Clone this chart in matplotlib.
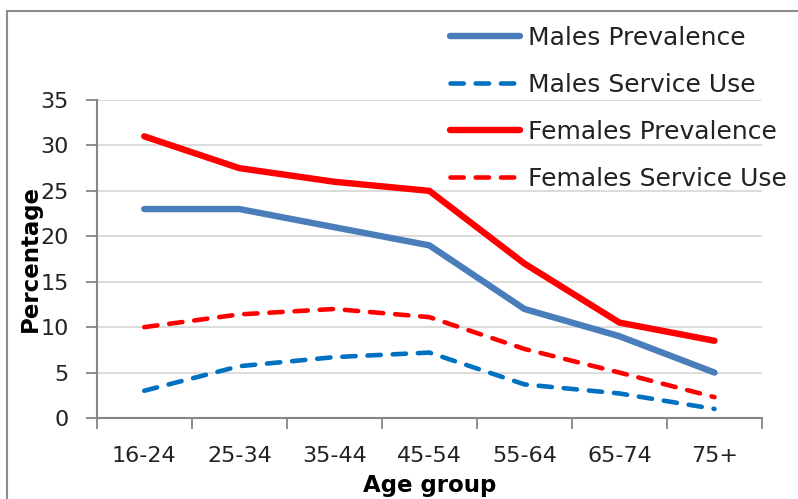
import matplotlib.pyplot as plt
from matplotlib.patches import Rectangle

# --- data ---
age_groups = ["16-24", "25-34", "35-44", "45-54", "55-64", "65-74", "75+"]
males_prev = [23, 23, 21, 19, 12, 9, 5]
males_serv = [3, 5.7, 6.7, 7.2, 3.7, 2.7, 1.0]
females_prev = [31, 27.5, 26, 25, 17, 10.5, 8.5]
females_serv = [10, 11.4, 12, 11.1, 7.6, 5.0, 2.3]

plt.rcParams['font.family'] = ['DejaVu Sans']

W, H = 798, 499
fig = plt.figure(figsize=(W / 100, H / 100), dpi=100)
ax = fig.add_axes([96.7 / W, 1 - 418 / H, (762 - 96.7) / W, (418 - 100) / H])

x = range(len(age_groups))
lw_solid = 4.6
lw_dash = 3.3
dash = (2.9, 2.6)
ax.plot(x, males_prev, color='#4A7EBB', lw=lw_solid, solid_capstyle='round',
        solid_joinstyle='round', label='Males Prevalence')
ax.plot(x, males_serv, color='#0070C0', lw=lw_dash, dashes=dash,
        dash_capstyle='round', label='Males Service Use')
ax.plot(x, females_prev, color='#FF0000', lw=lw_solid, solid_capstyle='round',
        solid_joinstyle='round', label='Females Prevalence')
ax.plot(x, females_serv, color='#FF0000', lw=lw_dash, dashes=dash,
        dash_capstyle='round', label='Females Service Use')

ax.set_xlim(-0.5, len(age_groups) - 0.5)
ax.set_ylim(0, 35)
ax.set_yticks(range(0, 36, 5))
ax.yaxis.grid(True, color='#D9D9D9', lw=1.3)
ax.set_axisbelow(True)

# category labels at centres, tick marks at boundaries
ax.set_xticks(list(x))
ax.set_xticklabels(age_groups)
ax.set_xticks([i - 0.5 for i in range(len(age_groups) + 1)], minor=True)
ax.tick_params(axis='x', which='major', length=0, pad=20, labelsize=16, colors='#222222')
ax.tick_params(axis='x', which='minor', length=8, width=1.3, color='#868686')
ax.tick_params(axis='y', length=8, width=1.3, color='#868686', pad=12,
               labelsize=16, labelcolor='#222222')

for side in ['top', 'right']:
    ax.spines[side].set_visible(False)
for side in ['left', 'bottom']:
    ax.spines[side].set_color('#868686')
    ax.spines[side].set_linewidth(1.5)

ax.set_xlabel('Age group', fontsize=16.5, fontweight='bold', labelpad=6)
ax.set_ylabel('Percentage', fontsize=16.5, fontweight='bold', labelpad=-1)

leg = fig.legend(loc='upper left', bbox_to_anchor=(440 / W, 1 - 16 / H),
                 frameon=False, fontsize=18, handlelength=2.8,
                 handletextpad=0.3, labelspacing=0.92, borderaxespad=0)
for t in leg.get_texts():
    t.set_color('#222222')

# chart border (cropped at the right and bottom)
fig.patches.append(Rectangle((6.5 / W, -0.1), 1.2, 1 - 10.5 / H + 0.1,
                             transform=fig.transFigure, fill=False,
                             edgecolor='#8C8C8C', lw=1.5))

fig.savefig('out.png', dpi=100)
